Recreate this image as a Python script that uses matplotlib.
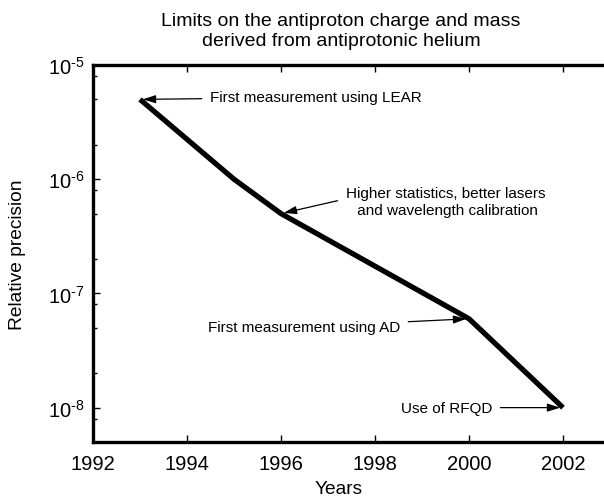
import numpy as np
import matplotlib
matplotlib.use("Agg")
import matplotlib.pyplot as plt
from matplotlib.ticker import FixedLocator, FixedFormatter

plt.rcParams['font.family'] = ['Liberation Sans', 'DejaVu Sans']
plt.rcParams['mathtext.fontset'] = 'custom'
plt.rcParams['mathtext.rm'] = 'Liberation Sans'
plt.rcParams['mathtext.it'] = 'Liberation Sans'
plt.rcParams['mathtext.default'] = 'regular'

# precision limits per year
years = [1993, 1995, 1996, 2000, 2002]
precision = [5e-6, 1e-6, 5e-7, 6e-8, 1e-8]

year_ticks = [1992, 1994, 1996, 1998, 2000, 2002]
decades = [1e-8, 1e-7, 1e-6, 1e-5]
decade_labels = [r'$10^{\text{-}8}$', r'$10^{\text{-}7}$',
                 r'$10^{\text{-}6}$', r'$10^{\text{-}5}$']

notes = ["First measurement using LEAR",
         "Higher statistics, better lasers\n and wavelength calibration",
         "First measurement using AD",
         "Use of RFQD"]

W, H = 604, 502
fig = plt.figure(figsize=(W / 100, H / 100), dpi=100)
ax = fig.add_axes([93 / W, 1 - 443 / H, 517 / W, (443 - 66) / H])

ax.semilogy(years, precision, color='black', lw=3.8, solid_capstyle='butt')

ax.set_xlim(1992, 2003)
ax.set_ylim(5e-9, 1e-5)

ax.xaxis.set_major_locator(FixedLocator(year_ticks))
ax.yaxis.set_major_locator(FixedLocator(decades))
ax.yaxis.set_major_formatter(FixedFormatter(decade_labels))
minors = [m * d for d in [1e-9, 1e-8, 1e-7, 1e-6] for m in (2, 5, 8)]
ax.yaxis.set_minor_locator(FixedLocator([v for v in minors if 5e-9 <= v <= 1e-5]))
ax.yaxis.set_minor_formatter(FixedFormatter([]))
ax.xaxis.set_minor_locator(FixedLocator([]))

ax.tick_params(which='both', direction='in', top=True, right=False,
               labelsize=14.5, width=1)
ax.tick_params(axis='x', pad=9)
ax.tick_params(axis='y', pad=6)
ax.tick_params(which='major', length=5)
ax.tick_params(which='minor', length=3)
for side in ['left', 'bottom', 'top']:
    ax.spines[side].set_linewidth(2.4)
ax.spines['right'].set_visible(False)

ax.set_xlabel("Years", fontsize=13.8)
ax.xaxis.set_label_coords(0.476, -0.1)
ax.set_ylabel("Relative precision", fontsize=13.8)
ax.yaxis.set_label_coords(-0.13, 0.5)

fig.text(341 / W, 1 - 22 / H, "Limits on the antiproton charge and mass",
         ha='center', va='center', fontsize=14)
fig.text(341 / W, 1 - 42 / H, "derived from antiprotonic helium",
         ha='center', va='center', fontsize=14)

def arrow(rel=(0.5, 0.5)):
    return dict(arrowstyle='-|>,head_length=0.7,head_width=0.22', color='black',
                lw=0.9, shrinkA=4, shrinkB=2, relpos=rel)

fs = 11
ax.annotate(notes[0], xy=(years[0], precision[0]), xytext=(1994.49, 5.2e-6),
            fontsize=fs, ha='left', va='center', arrowprops=arrow())
ax.annotate(notes[1], xy=(years[2], precision[2]), xytext=(1999.5, 6.4e-7),
            fontsize=fs, ha='center', va='center', arrowprops=arrow((0, 0.58)),
            linespacing=1.3)
ax.annotate(notes[2], xy=(years[3], precision[3]), xytext=(1998.53, 5.1e-8),
            fontsize=fs, ha='right', va='center', arrowprops=arrow())
ax.annotate(notes[3], xy=(years[4], precision[4]), xytext=(2000.49, 1e-8),
            fontsize=fs, ha='right', va='center', arrowprops=arrow())

fig.savefig("out.png", dpi=100)
